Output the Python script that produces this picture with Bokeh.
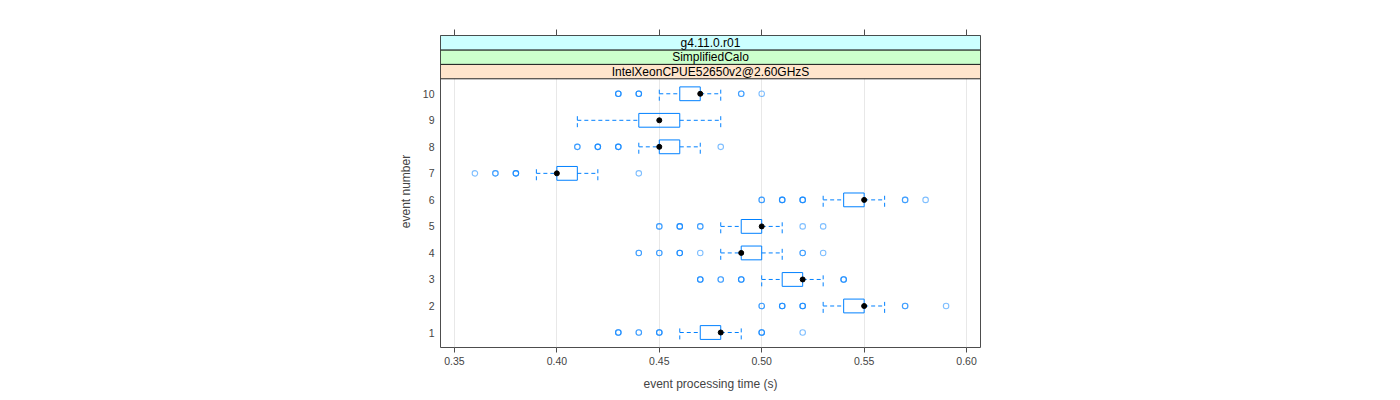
from bokeh.plotting import figure
from bokeh.models import (FixedTicker, LinearAxis, BoxAnnotation, Label,
                          NumeralTickFormatter, ColumnDataSource)
from bokeh.embed import file_html
from bokeh.resources import INLINE

# ---- data ----
events = [1, 2, 3, 4, 5, 6, 7, 8, 9, 10]
q1 = [0.47, 0.54, 0.51, 0.49, 0.49, 0.54, 0.40, 0.45, 0.44, 0.46]
q3 = [0.48, 0.55, 0.52, 0.50, 0.50, 0.55, 0.41, 0.46, 0.46, 0.47]
medians = [0.48, 0.55, 0.52, 0.49, 0.50, 0.55, 0.40, 0.45, 0.45, 0.47]
whisk_lo = [0.46, 0.53, 0.50, 0.48, 0.48, 0.53, 0.39, 0.44, 0.41, 0.45]
whisk_hi = [0.49, 0.56, 0.53, 0.51, 0.51, 0.56, 0.42, 0.47, 0.48, 0.48]
outliers = [
    [0.43, 0.43, 0.43, 0.44, 0.44, 0.45, 0.45, 0.45, 0.50, 0.50, 0.50, 0.52],
    [0.50, 0.50, 0.51, 0.51, 0.51, 0.52, 0.52, 0.52, 0.57, 0.57, 0.59],
    [0.47, 0.47, 0.47, 0.48, 0.48, 0.49, 0.49, 0.49, 0.54, 0.54, 0.54],
    [0.44, 0.44, 0.45, 0.45, 0.46, 0.46, 0.46, 0.47, 0.52, 0.52, 0.53],
    [0.45, 0.45, 0.46, 0.46, 0.46, 0.47, 0.47, 0.52, 0.53],
    [0.50, 0.50, 0.51, 0.51, 0.51, 0.52, 0.52, 0.52, 0.57, 0.57, 0.58],
    [0.36, 0.37, 0.37, 0.38, 0.38, 0.38, 0.44],
    [0.41, 0.41, 0.42, 0.42, 0.42, 0.43, 0.43, 0.43, 0.48],
    [],
    [0.43, 0.43, 0.43, 0.44, 0.44, 0.44, 0.49, 0.49, 0.50],
]
x_ticks = [0.35, 0.40, 0.45, 0.50, 0.55, 0.60]
strip_labels = ["IntelXeonCPUE52650v2@2.60GHzS", "SimplifiedCalo", "g4.11.0.r01"]
strip_colors = ["#ffe5cc", "#ccffcc", "#ccffff"]

# ---- layout ----
BLUE = "#0080ff"
FONT = "Liberation Sans"
x0, x1 = 0.3432, 0.6068
y0, y_panel_top = 0.435, 10.565
strip_h = 0.544
y1 = y_panel_top + 3 * strip_h
half = 0.26

p = figure(width=1392, height=396, x_range=(x0, x1), y_range=(y0, y1),
           output_backend="svg", toolbar_location=None,
           min_border_left=440, min_border_right=412,
           min_border_top=35, min_border_bottom=49)
p.background_fill_color = "white"
p.border_fill_color = "white"
p.outline_line_color = "#4d4d4d"
p.outline_line_width = 1

# grid
p.xgrid.ticker = FixedTicker(ticks=x_ticks)
p.xgrid.grid_line_color = "#e8e8e8"
p.ygrid.visible = False

# bottom axis
xa = p.xaxis[0]
xa.ticker = FixedTicker(ticks=x_ticks)
xa.formatter = NumeralTickFormatter(format="0.00")
xa.axis_line_color = None
xa.major_tick_out = 5
xa.major_tick_in = 0
xa.major_tick_line_color = "#4d4d4d"
xa.minor_tick_line_color = None
xa.major_label_text_font = FONT
xa.major_label_text_font_size = "10.5px"
xa.major_label_standoff = 4
xa.axis_label = "event processing time (s)"
xa.axis_label_text_font = FONT
xa.axis_label_text_font_size = "12px"
xa.axis_label_text_font_style = "normal"
xa.axis_label_standoff = 9

# top axis (ticks only)
ta = LinearAxis(ticker=FixedTicker(ticks=x_ticks), axis_line_color=None,
                major_tick_out=6, major_tick_in=0,
                major_tick_line_color="#4d4d4d", minor_tick_line_color=None,
                major_label_text_color=None, major_label_text_font_size="1px",
                major_label_standoff=0)
p.add_layout(ta, "above")

# left axis
ya = p.yaxis[0]
ya.ticker = FixedTicker(ticks=events)
ya.axis_line_color = None
ya.major_tick_out = 0
ya.major_tick_in = 0
ya.minor_tick_line_color = None
ya.major_label_text_font = FONT
ya.major_label_text_font_size = "10.5px"
ya.major_label_standoff = 6
ya.axis_label = "event number"
ya.axis_label_text_font = FONT
ya.axis_label_text_font_size = "12px"
ya.axis_label_text_font_style = "normal"
ya.axis_label_standoff = 7

# boxes
src = ColumnDataSource(dict(
    ev=events, q1=q1, q3=q3, med=medians, lo=whisk_lo, hi=whisk_hi,
    bot=[e - half for e in events], top=[e + half for e in events]))

p.segment(x0="lo", x1="q1", y0="ev", y1="ev", source=src,
          line_color=BLUE, line_width=1, line_dash="4 3")
p.segment(x0="q3", x1="hi", y0="ev", y1="ev", source=src,
          line_color=BLUE, line_width=1, line_dash="4 3")
p.segment(x0="lo", x1="lo", y0="bot", y1="top", source=src,
          line_color=BLUE, line_width=1, line_dash="4 3")
p.segment(x0="hi", x1="hi", y0="bot", y1="top", source=src,
          line_color=BLUE, line_width=1, line_dash="4 3")
p.quad(left="q1", right="q3", bottom="bot", top="top", source=src,
       fill_color=None, line_color=BLUE, line_width=1)

ox, oy = [], []
for ev, vals in zip(events, outliers):
    for v in vals:
        ox.append(v)
        oy.append(ev)
p.scatter(ox, oy, marker="circle", size=5.5, fill_color=None,
          line_color=BLUE, line_width=1.1, line_alpha=0.5)

p.scatter(x="med", y="ev", source=src, marker="circle", size=5,
          fill_color="black", line_color="black")

# strips
for i, (lab, col) in enumerate(zip(strip_labels, strip_colors)):
    b = y_panel_top + i * strip_h
    t = b + strip_h
    p.add_layout(BoxAnnotation(bottom=b, top=t, fill_color=col, fill_alpha=1,
                               line_color="#222222", line_width=1,
                               line_alpha=1))
    p.add_layout(Label(x=(x0 + x1) / 2, y=(b + t) / 2, text=lab,
                       text_align="center", text_baseline="middle",
                       text_font=FONT, text_font_size="12px",
                       text_color="black"))

open("out.html", "w").write(file_html(p, INLINE))
